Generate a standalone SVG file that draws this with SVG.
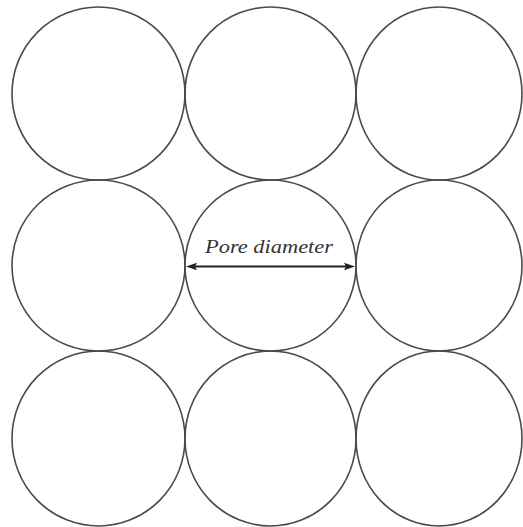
<svg xmlns="http://www.w3.org/2000/svg" width="523" height="527" viewBox="0 0 523 527">
<style>
.c{fill:none;stroke:#4a4a4a;stroke-width:1.6}
.lbl{font-family:"Liberation Serif","DejaVu Serif",serif;font-style:italic;font-size:19px;fill:#333}
</style>
<rect width="523" height="527" fill="#fff"/>
<g id="c11"><ellipse class="c" cx="98.5" cy="93.5" rx="86.5" ry="86.5"/></g>
<g id="c12"><ellipse class="c" cx="270.5" cy="93.5" rx="85.5" ry="86.5"/></g>
<g id="c13"><ellipse class="c" cx="439" cy="93.5" rx="83" ry="86.5"/></g>
<g id="c21"><ellipse class="c" cx="98.5" cy="265.5" rx="86.5" ry="85.5"/></g>
<g id="c22"><ellipse class="c" cx="270.5" cy="265.5" rx="85.5" ry="85.5"/></g>
<g id="c23"><ellipse class="c" cx="439" cy="265.5" rx="83" ry="85.5"/></g>
<g id="c31"><ellipse class="c" cx="98.5" cy="438.5" rx="86.5" ry="87.5"/></g>
<g id="c32"><ellipse class="c" cx="270.5" cy="438.5" rx="85.5" ry="87.5"/></g>
<g id="c33"><ellipse class="c" cx="439" cy="438.5" rx="83" ry="87.5"/></g>
<g id="connectors">
<line x1="194" y1="266.5" x2="347" y2="266.5" stroke="#222" stroke-width="2"/>
<polygon points="186,266.5 197,262.8 195,266.5 197,270.2" fill="#222"/>
<polygon points="355,266.5 344,262.8 346,266.5 344,270.2" fill="#222"/>
</g>
<g id="label"><text class="lbl" x="205" y="253" textLength="128" lengthAdjust="spacingAndGlyphs">Pore diameter</text></g>
</svg>
